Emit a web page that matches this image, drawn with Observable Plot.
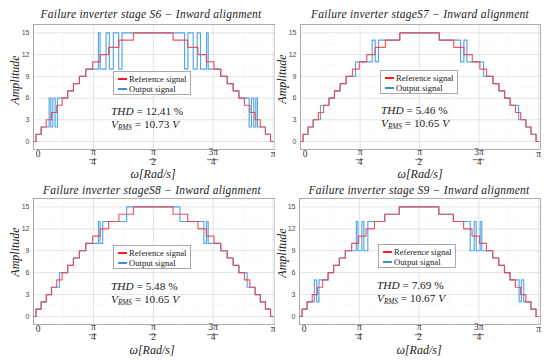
<!DOCTYPE html>
<html>
<head>
<meta charset="utf-8">
<script src="https://cdn.jsdelivr.net/npm/d3@7"></script>
<script src="https://cdn.jsdelivr.net/npm/@observablehq/plot@0.6"></script>
<style>
  body { margin: 0; background: #fff; }
  #root { position: relative; width: 550px; height: 360px; overflow: hidden; background: #fff; font-family: "Liberation Serif", serif; color: #222; }
  .cell { position: absolute; }
  .title { position: absolute; font-style: italic; font-size: 11.5px; white-space: nowrap; transform: translate(-50%, -50%); letter-spacing: 0.25px; }
  .ylab { position: absolute; font-style: italic; font-size: 12px; white-space: nowrap; transform: translate(-50%, -50%) rotate(-90deg); }
  .xlab { position: absolute; font-style: italic; font-size: 12px; white-space: nowrap; transform: translate(-50%, -50%); }
  .legend { position: absolute; width: 78px; height: 24px; border: 1px solid #a8a8a8; background: #fff; box-sizing: border-box; font-size: 8.6px; }
  .legend .row { position: absolute; left: 4px; display: flex; align-items: center; height: 10px; }
  .legend .sw { display: inline-block; width: 8.5px; height: 2px; margin-right: 2.5px; }
  .stat { position: absolute; font-size: 11.3px; line-height: 11px; white-space: nowrap; transform: translateY(-50%); }
  .stat sub { font-size: 7.2px; vertical-align: -2px; line-height: 0; }
</style>
</head>
<body>
<div id="root"></div>
<script>
// ---------- data ----------
const panelKeys = ["S6", "S7", "S8", "S9"];
const titles = [
  "Failure inverter stage S6 \u2212 Inward alignment",
  "Failure inverter stageS7 \u2212 Inward alignment",
  "Failure inverter stageS8 \u2212 Inward alignment",
  "Failure inverter stage S9 \u2212 Inward alignment"
];
const thdValues = ["12.41", "5.46", "5.48", "7.69"];
const vrmsValues = ["10.73", "10.65", "10.65", "10.67"];

// x in units of pi (0 .. 1), level = amplitude after that step
const refX = [0, 0.0106, 0.0319, 0.0533, 0.0750, 0.0970, 0.1195, 0.1427, 0.1667, 0.1917, 0.2182, 0.2468, 0.2785, 0.3136, 0.3564, 0.4172,
              0.5828, 0.6436, 0.6864, 0.7215, 0.7532, 0.7818, 0.8083, 0.8333, 0.8573, 0.8805, 0.9030, 0.9250, 0.9467, 0.9681, 0.9894, 1.0];
const refLevel = [0, 1, 2, 3, 4, 5, 6, 7, 8, 9, 10, 11, 12, 13, 14, 15,
                  14, 13, 12, 11, 10, 9, 8, 7, 6, 5, 4, 3, 2, 1, 0, 0];

const outX_S6 = [0, 0.0106, 0.0319, 0.0653, 0.0722, 0.0806, 0.0903, 0.1000, 0.1427, 0.1667, 0.1917, 0.2182, 0.2708, 0.2778, 0.3028, 0.3167, 0.3333, 0.3556, 0.3694,
                 0.6306, 0.6444, 0.6667, 0.6833, 0.6972, 0.7222, 0.7292, 0.7818, 0.8083, 0.8333, 0.8573, 0.9000, 0.9097, 0.9194, 0.9278, 0.9347, 0.9681, 0.9894, 1.0];
const outLevel_S6 = [0, 1, 2, 6, 2, 6, 2, 6, 7, 8, 9, 10, 15, 10, 15, 10, 15, 10, 15,
                     10, 15, 10, 15, 10, 15, 10, 9, 8, 7, 6, 2, 6, 2, 6, 2, 1, 0, 0];

const outX_S7 = [0, 0.0106, 0.0319, 0.0533, 0.0840, 0.1195, 0.1427, 0.1667, 0.1917, 0.2311, 0.3011, 0.3137, 0.3277, 0.4172,
                 0.5828, 0.6723, 0.6863, 0.6989, 0.7689, 0.8083, 0.8333, 0.8573, 0.8805, 0.9160, 0.9467, 0.9681, 0.9894, 1.0];
const outLevel_S7 = [0, 1, 2, 3, 5, 6, 7, 8, 9, 11, 14, 11, 14, 15,
                     14, 11, 14, 11, 9, 8, 7, 6, 5, 3, 2, 1, 0, 0];

const outX_S8 = [0, 0.0106, 0.0319, 0.0533, 0.0750, 0.1083, 0.1427, 0.1667, 0.1917, 0.2182, 0.2708, 0.2778, 0.2889, 0.3889,
                 0.6111, 0.7111, 0.7222, 0.7292, 0.7818, 0.8083, 0.8333, 0.8573, 0.8917, 0.9250, 0.9467, 0.9681, 0.9894, 1.0];
const outLevel_S8 = [0, 1, 2, 3, 4, 6, 7, 8, 9, 10, 13, 10, 13, 15,
                     13, 10, 13, 10, 9, 8, 7, 6, 4, 3, 2, 1, 0, 0];

const outX_S9 = [0, 0.0106, 0.0319, 0.0622, 0.0718, 0.0815, 0.1195, 0.1427, 0.1667, 0.1917, 0.2376, 0.2445, 0.2610, 0.2693, 0.2859, 0.3564, 0.4172,
                 0.5828, 0.6436, 0.7141, 0.7307, 0.7390, 0.7555, 0.7624, 0.8083, 0.8333, 0.8573, 0.8805, 0.9185, 0.9282, 0.9378, 0.9681, 0.9894, 1.0];
const outLevel_S9 = [0, 1, 2, 5, 2, 5, 6, 7, 8, 9, 13, 9, 13, 9, 13, 14, 15,
                     14, 13, 9, 13, 9, 13, 9, 8, 7, 6, 5, 2, 5, 2, 1, 0, 0];

const yTicks = [0, 3, 6, 9, 12, 15];
const yMinor = [1.5, 4.5, 7.5, 10.5, 13.5];
const xTickValues = [0, 0.25, 0.5, 0.75, 1];
const xMinor = [0.125, 0.375, 0.625, 0.875];
const xTickTop = ["0", "\u03C0", "\u03C0", "3\u03C0", "\u03C0"];
const xTickBottom = ["", "4", "2", "4", ""];

// ---------- layout ----------
const outX = [outX_S6, outX_S7, outX_S8, outX_S9];
const outLevel = [outLevel_S6, outLevel_S7, outLevel_S8, outLevel_S9];
const cells = [
  {left: 0,   top: 0,   mL: 33, mR: 0.5, mT: 24, mB: 31, title: [151, 14],  ylab: [15, 80],   xlab: [153, 174], leg: [113, 71],  stat: [111, 111, 124]},
  {left: 275, top: 0,   mL: 25, mR: 10,  mT: 24, mB: 31, title: [420, 14],  ylab: [282, 79],  xlab: [420, 174], leg: [380, 70],  stat: [381, 110, 123]},
  {left: 0,   top: 180, mL: 33, mR: 0.5, mT: 18, mB: 36, title: [152, 190], ylab: [15, 252],  xlab: [152, 350], leg: [113, 245], stat: [111, 285.5, 298.5]},
  {left: 275, top: 180, mL: 24, mR: 10,  mT: 18, mB: 36, title: [419, 190], ylab: [282, 253], xlab: [419, 350], leg: [378, 244], stat: [377, 285, 298]}
];
const RED = "#ec4250";
const BLUE = "#55a6e6";
const SERIF = "Liberation Serif";

const root = document.getElementById("root");

panelKeys.forEach((key, i) => {
  const c = cells[i];
  const ref = refX.map((x, j) => ({x, y: refLevel[j]}));
  const out = outX[i].map((x, j) => ({x, y: outLevel[i][j]}));
  const ticks = xTickValues.map((v, j) => ({v, top: xTickTop[j], bottom: xTickBottom[j], single: xTickBottom[j] === ""}));
  const fracTicks = ticks.filter(d => !d.single);
  const singleTicks = ticks.filter(d => d.single);
  // fraction bar half-width (in x units) follows the numerator's length
  const barHalf = d => (d.top.length > 1 ? 0.024 : 0.016);

  const svg = Plot.plot({
    width: 275, height: 180,
    marginLeft: c.mL, marginRight: c.mR, marginTop: c.mT, marginBottom: c.mB,
    style: {fontFamily: "Liberation Sans", fontSize: "7px", color: "#4a4a4a", background: "white", overflow: "visible"},
    x: {domain: [0, 1.008], axis: null},
    y: {domain: [-1.1, 16.15], ticks: yTicks, tickSize: 0, tickPadding: 4, label: null},
    marks: [
      Plot.ruleX(xMinor, {stroke: "#000", strokeOpacity: 0.05, strokeDasharray: "1,1.5"}),
      Plot.ruleY(yMinor, {stroke: "#000", strokeOpacity: 0.05, strokeDasharray: "1,1.5"}),
      Plot.ruleX(xTickValues, {stroke: "#000", strokeOpacity: 0.1}),
      Plot.ruleY(yTicks, {stroke: "#000", strokeOpacity: 0.1}),
      Plot.line(out, {x: "x", y: "y", curve: "step-after", stroke: BLUE, strokeWidth: 1.15}),
      Plot.line(ref, {x: "x", y: "y", curve: "step-after", stroke: RED, strokeWidth: 1.15, strokeOpacity: 0.9}),
      Plot.frame({stroke: "#9a9a9a", strokeWidth: 0.8}),
      Plot.text(singleTicks, {x: "v", frameAnchor: "bottom", dy: 7.5, text: "top", fontFamily: SERIF, fontSize: 9.5, fill: "#333", className: "single-tick"}),
      Plot.text(fracTicks, {x: "v", frameAnchor: "bottom", dy: 5, text: "top", fontFamily: SERIF, fontSize: 9.5, fill: "#333"}),
      Plot.ruleY(fracTicks, {y: () => -1.1, x1: d => d.v - barHalf(d), x2: d => d.v + barHalf(d), dy: 10.2, stroke: "#333", strokeWidth: 0.7}),
      Plot.text(fracTicks, {x: "v", frameAnchor: "bottom", dy: 15.5, text: "bottom", fontFamily: SERIF, fontSize: 9.5, fill: "#333"})
    ]
  });
  // the zero tick label in the reference sits a little to the right of the axis origin
  d3.select(svg).selectAll(".single-tick text").filter(function () { return this.textContent === "0"; }).attr("dx", 4.5);

  const cell = document.createElement("div");
  cell.className = "cell";
  cell.style.left = c.left + "px";
  cell.style.top = c.top + "px";
  cell.appendChild(svg);
  root.appendChild(cell);

  const t = document.createElement("div");
  t.className = "title";
  t.style.left = c.title[0] + "px"; t.style.top = c.title[1] + "px";
  t.textContent = titles[i];
  root.appendChild(t);

  const yl = document.createElement("div");
  yl.className = "ylab";
  yl.style.left = c.ylab[0] + "px"; yl.style.top = c.ylab[1] + "px";
  yl.textContent = "Amplitude";
  root.appendChild(yl);

  const xl = document.createElement("div");
  xl.className = "xlab";
  xl.style.left = c.xlab[0] + "px"; xl.style.top = c.xlab[1] + "px";
  xl.textContent = "\u03C9[Rad/s]";
  root.appendChild(xl);

  const lg = document.createElement("div");
  lg.className = "legend";
  lg.style.left = c.leg[0] + "px"; lg.style.top = c.leg[1] + "px";
  lg.innerHTML = `<div class="row" style="top:1.5px"><span class="sw" style="background:#ff1a1a"></span>Reference signal</div>` +
                 `<div class="row" style="top:11.8px"><span class="sw" style="background:#3d8fdc"></span>Output signal</div>`;
  root.appendChild(lg);

  const s1 = document.createElement("div");
  s1.className = "stat";
  s1.style.left = c.stat[0] + "px"; s1.style.top = c.stat[1] + "px";
  s1.innerHTML = `<i>THD</i> = ${thdValues[i]} %`;
  root.appendChild(s1);
  const s2 = document.createElement("div");
  s2.className = "stat";
  s2.style.left = c.stat[0] + "px"; s2.style.top = c.stat[2] + "px";
  s2.innerHTML = `<i>V<sub>RMS</sub></i> = ${vrmsValues[i]} <i>V</i>`;
  root.appendChild(s2);
});
</script>
</body>
</html>
